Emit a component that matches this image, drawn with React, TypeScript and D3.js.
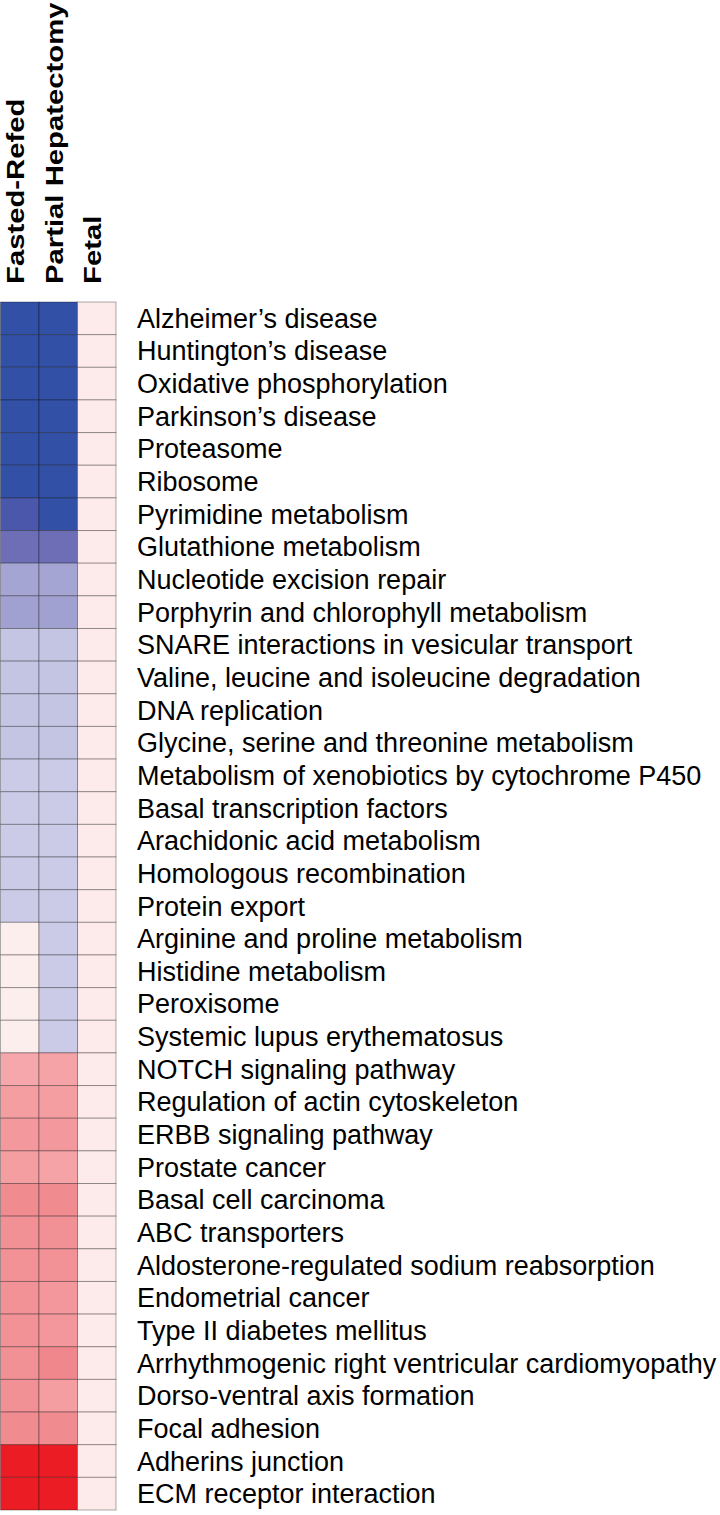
import React from "react";
import * as d3 from "d3";

const conditions = ["Fasted-Refed", "Partial Hepatectomy", "Fetal"];

const pathways = [
  "Alzheimer’s disease",
  "Huntington’s disease",
  "Oxidative phosphorylation",
  "Parkinson’s disease",
  "Proteasome",
  "Ribosome",
  "Pyrimidine metabolism",
  "Glutathione metabolism",
  "Nucleotide excision repair",
  "Porphyrin and chlorophyll metabolism",
  "SNARE interactions in vesicular transport",
  "Valine, leucine and isoleucine degradation",
  "DNA replication",
  "Glycine, serine and threonine metabolism",
  "Metabolism of xenobiotics by cytochrome P450",
  "Basal transcription factors",
  "Arachidonic acid metabolism",
  "Homologous recombination",
  "Protein export",
  "Arginine and proline metabolism",
  "Histidine metabolism",
  "Peroxisome",
  "Systemic lupus erythematosus",
  "NOTCH signaling pathway",
  "Regulation of actin cytoskeleton",
  "ERBB signaling pathway",
  "Prostate cancer",
  "Basal cell carcinoma",
  "ABC transporters",
  "Aldosterone-regulated sodium reabsorption",
  "Endometrial cancer",
  "Type II diabetes mellitus",
  "Arrhythmogenic right ventricular cardiomyopathy",
  "Dorso-ventral axis formation",
  "Focal adhesion",
  "Adherins junction",
  "ECM receptor interaction",
];

// enrichment scores, -1 = strongly down (blue), +1 = strongly up (red)
const fastedRefed = [
  -1, -1, -1, -1, -1, -1, -0.9, -0.75, -0.45, -0.47,
  -0.28, -0.28, -0.28, -0.28, -0.24, -0.24, -0.24, -0.24, -0.24,
  0, 0, 0, 0,
  0.38, 0.42, 0.44, 0.42, 0.5, 0.48, 0.47, 0.47, 0.47, 0.48, 0.48, 0.5,
  1, 1,
];
const partialHepatectomy = [
  -1, -1, -1, -1, -1, -1, -1, -0.75, -0.45, -0.47,
  -0.28, -0.28, -0.28, -0.28, -0.24, -0.24, -0.24, -0.24, -0.24,
  -0.24, -0.24, -0.24, -0.24,
  0.4, 0.42, 0.44, 0.4, 0.5, 0.48, 0.47, 0.45, 0.45, 0.52, 0.42, 0.5,
  1, 1,
];
const fetal = [
  0.04, 0.04, 0.04, 0.04, 0.04, 0.04, 0.04, 0.04, 0.04, 0.04,
  0.04, 0.04, 0.04, 0.04, 0.04, 0.04, 0.04, 0.04, 0.04,
  0.04, 0.04, 0.04, 0.04,
  0.04, 0.04, 0.04, 0.04, 0.04, 0.04, 0.04, 0.04, 0.04, 0.04, 0.04, 0.04,
  0.04, 0.04,
];

const seriesValues = [fastedRefed, partialHepatectomy, fetal];

const App = () => {
  const width = 720;
  const height = 1515;
  const gridLeft = 0.5;
  const gridRight = 116;
  const gridTop = 302;
  const gridBottom = 1510;

  const x = d3.scaleBand().domain(conditions).range([gridLeft, gridRight]);
  const y = d3.scaleBand().domain(pathways).range([gridTop, gridBottom]);

  const color = d3
    .scaleLinear<string>()
    .domain([-1, -0.9, -0.75, -0.45, -0.28, -0.24, 0, 0.04, 0.4, 0.5, 1])
    .range([
      "#3150a6",
      "#4a57aa",
      "#6d6eb6",
      "#a5a5d3",
      "#c4c4e3",
      "#cbcbe7",
      "#fdeeee",
      "#fdeaea",
      "#f5a3a7",
      "#f08b90",
      "#ec1c24",
    ])
    .clamp(true);

  const cells = conditions.flatMap((c, ci) =>
    pathways.map((p, pi) => ({ c, p, v: seriesValues[ci][pi] }))
  );

  return (
    <svg
      width={width}
      height={height}
      style={{ position: "absolute", left: 0, top: 0, background: "#fff" }}
      fontFamily="'Liberation Sans', Arial, Helvetica, sans-serif"
    >
      {/* heatmap cells */}
      <g>
        {cells.map((d, i) => (
          <rect
            key={i}
            x={x(d.c)}
            y={y(d.p)}
            width={x.bandwidth()}
            height={y.bandwidth()}
            fill={color(d.v)}
            stroke="#000"
            strokeOpacity={0.32}
            strokeWidth={1}
          />
        ))}
      </g>

      {/* column headers, rotated */}
      <g>
        {conditions.map((c) => {
          const bx = (x(c) ?? 0) + x.bandwidth() / 2 + 4.5;
          return (
            <text
              key={c}
              transform={`translate(${bx},284) rotate(-90) scale(1.22,1)`}
              fontSize={24}
              fontWeight="bold"
              fill="#000"
            >
              {c}
            </text>
          );
        })}
      </g>

      {/* row labels */}
      <g>
        {pathways.map((p) => (
          <text
            key={p}
            x={137}
            y={(y(p) ?? 0) + y.bandwidth() / 2 + 9.5}
            fontSize={27}
            fill="#000"
          >
            {p}
          </text>
        ))}
      </g>
    </svg>
  );
};

export default App;
